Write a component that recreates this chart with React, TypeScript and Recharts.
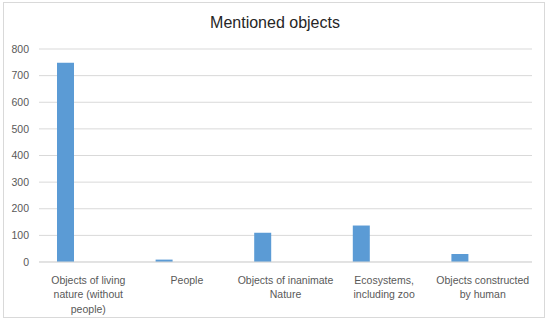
import React from "react";
import { BarChart, Bar, XAxis, YAxis, CartesianGrid } from "recharts";

const categories = [
  "Objects of living nature (without people)",
  "People",
  "Objects of inanimate Nature",
  "Ecosystems, including zoo",
  "Objects constructed by human",
];
const tickLines: string[][] = [
  ["Objects of living", "nature (without", "people)"],
  ["People"],
  ["Objects of inanimate", "Nature"],
  ["Ecosystems,", "including zoo"],
  ["Objects constructed", "by human"],
];
const mentioned = [748, 9, 110, 137, 30];
const seriesB: (number | null)[] = [null, null, null, null, null];
const seriesC: (number | null)[] = [null, null, null, null, null];
const yTicks = [0, 100, 200, 300, 400, 500, 600, 700, 800];

const data = categories.map((c, i) => ({
  name: c,
  a: mentioned[i],
  b: seriesB[i],
  c: seriesC[i],
}));

const FONT = "'Liberation Sans', Arial, sans-serif";

const CatTick = (props: any) => {
  const { x, y, index } = props;
  const lines = tickLines[index] || [];
  return (
    <g transform={`translate(${x},${y})`}>
      {lines.map((l, i) => (
        <text
          key={i}
          x={0}
          y={13.5 + i * 14.5}
          textAnchor="middle"
          fill="#595959"
          fontSize={10.5}
          fontFamily={FONT}
        >
          {l}
        </text>
      ))}
    </g>
  );
};

export default function App() {
  return (
    <div style={{ position: "relative", width: 550, height: 322, background: "#fff" }}>
      <style>{"body{margin:0}"}</style>
      <div
        style={{
          position: "absolute",
          left: 3,
          top: 2,
          width: 542,
          height: 316,
          border: "1px solid #D9D9D9",
          boxSizing: "border-box",
        }}
      />
      <div
        style={{
          position: "absolute",
          left: 0,
          top: 14,
          width: 550,
          textAlign: "center",
          fontFamily: FONT,
          fontSize: 16,
          color: "#262626",
        }}
      >
        Mentioned objects
      </div>
      <div style={{ position: "absolute", left: 0, top: 0 }}>
        <BarChart
          width={550}
          height={322}
          data={data}
          margin={{ top: 49, right: 18, bottom: 5, left: 0 }}
          barGap={5.8}
        >
          <CartesianGrid vertical={false} stroke="#D9D9D9" strokeWidth={1} />
          <XAxis
            dataKey="name"
            height={55}
            axisLine={{ stroke: "#D9D9D9" }}
            tickLine={false}
            interval={0}
            tick={<CatTick />}
          />
          <YAxis
            width={39}
            domain={[0, 800]}
            ticks={yTicks}
            axisLine={false}
            tickLine={false}
            tick={{ fill: "#595959", fontSize: 10.5, fontFamily: FONT }}
            tickMargin={4}
          />
          <Bar dataKey="a" fill="#5B9BD5" barSize={17} isAnimationActive={false} />
          <Bar dataKey="b" fill="#ED7D31" barSize={17} isAnimationActive={false} />
          <Bar dataKey="c" fill="#A5A5A5" barSize={17} isAnimationActive={false} />
        </BarChart>
      </div>
    </div>
  );
}
